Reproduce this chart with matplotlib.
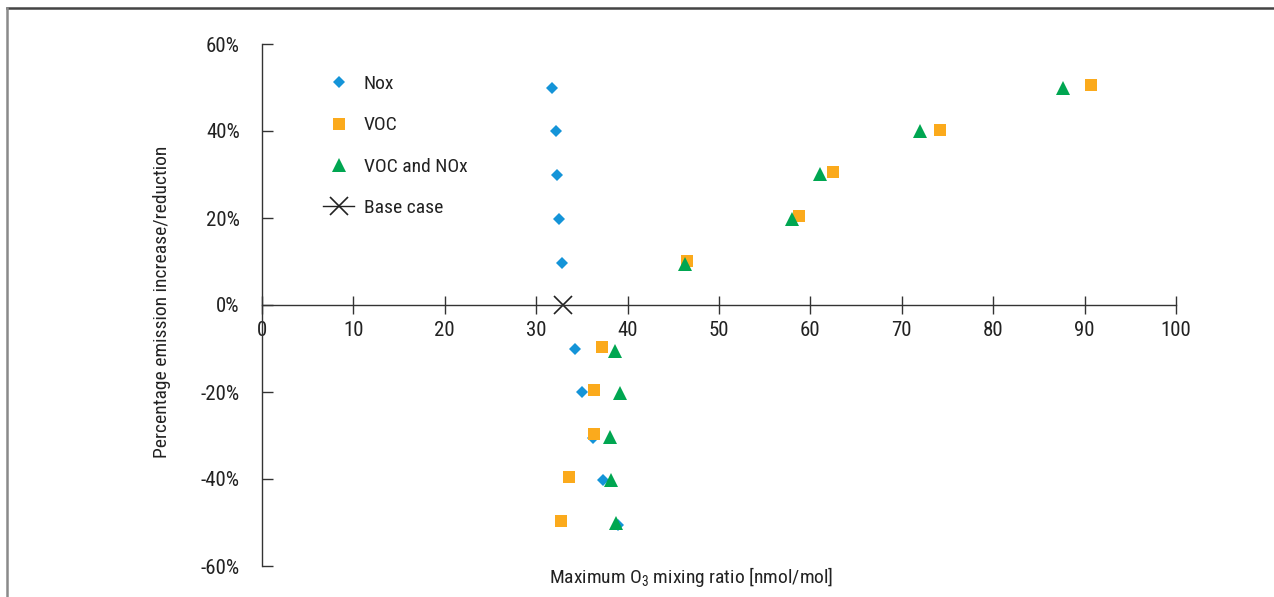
import matplotlib
matplotlib.use("Agg")
import matplotlib.pyplot as plt
from matplotlib.lines import Line2D
from matplotlib.ticker import FuncFormatter

plt.rcParams['font.family'] = ['Roboto Condensed', 'Liberation Sans', 'DejaVu Sans']
plt.rcParams['mathtext.default'] = 'regular'

# Emission change levels (fraction)
levels = [0.5, 0.4, 0.3, 0.2, 0.1, -0.1, -0.2, -0.3, -0.4, -0.5]

# Maximum O3 mixing ratio [nmol/mol]
nox_x = [31.7, 32.2, 32.3, 32.5, 32.8, 34.2, 35.0, 36.2, 37.3, 38.9]
nox_y = [0.499, 0.40, 0.30, 0.198, 0.097, -0.101, -0.20, -0.305, -0.402, -0.506]

voc_x = [90.7, 74.2, 62.5, 58.8, 46.5, 37.2, 36.3, 36.3, 33.6, 32.7]
voc_y = [0.506, 0.402, 0.306, 0.205, 0.101, -0.097, -0.196, -0.297, -0.395, -0.497]

both_x = [87.6, 72.0, 61.0, 58.0, 46.3, 38.6, 39.2, 38.1, 38.2, 38.7]
both_y = [0.499, 0.40, 0.301, 0.198, 0.094, -0.105, -0.202, -0.303, -0.403, -0.502]

base_x = [32.9]
base_y = [0.0]

xticks = [0, 10, 20, 30, 40, 50, 60, 70, 80, 90, 100]
yticks = [-0.6, -0.4, -0.2, 0.0, 0.2, 0.4, 0.6]

c_nox = '#1494D8'
c_voc = '#FBAA1C'
c_both = '#00A651'
c_axis = '#333333'
c_text = '#222222'
FS = 15
FL = 14

fig = plt.figure(figsize=(12.74, 5.97), dpi=100)
ax = fig.add_axes([262/1274, 1-566/597, (1176-262)/1274, (566-44)/597])

ax.plot(nox_x, nox_y, linestyle='none', marker='D', markersize=6.2, color=c_nox,
        markeredgewidth=0, label='Nox')
ax.plot(voc_x, voc_y, linestyle='none', marker='s', markersize=8, color=c_voc,
        markeredgewidth=0, label='VOC')
ax.plot(both_x, both_y, linestyle='none', marker='^', markersize=9.5, color=c_both,
        markeredgewidth=0, label='VOC and NOx')
ax.plot(base_x, base_y, linestyle='none', marker='x', markersize=13, color='#222222',
        markeredgewidth=1.2, label='Base case')

ax.set_xlim(0, 100)
ax.set_ylim(-0.6, 0.6)

for s in ['top', 'right']:
    ax.spines[s].set_visible(False)
ax.spines['bottom'].set_position(('data', 0))
ax.spines['bottom'].set_color(c_axis)
ax.spines['left'].set_color(c_axis)
ax.spines['bottom'].set_linewidth(1.0)
ax.spines['left'].set_linewidth(1.0)

ax.set_xticks(xticks)
ax.set_yticks(yticks)
ax.yaxis.set_major_formatter(FuncFormatter(lambda v, p: f"{v*100:.0f}%"))
ax.tick_params(axis='x', direction='inout', length=13, width=1.0, color=c_axis,
               labelsize=FS, labelcolor=c_text, pad=5)
ax.tick_params(axis='y', direction='in', length=8, width=1.0, color=c_axis,
               labelsize=FS, labelcolor=c_text, pad=16)

ax.set_xlabel('Maximum O$_3$ mixing ratio [nmol/mol]', fontsize=FL, color=c_text)
ax.xaxis.set_label_coords((691-262)/914, (566-577)/522)
ax.xaxis.label.set_verticalalignment('center')
ax.set_ylabel('Percentage emission increase/reduction', fontsize=FL, color=c_text)
ax.yaxis.set_label_coords((162-262)/914, (566-302)/522)
ax.yaxis.label.set_verticalalignment('center')

handles = [
    Line2D([], [], linestyle='none', marker='D', markersize=6.2, color=c_nox, markeredgewidth=0),
    Line2D([], [], linestyle='none', marker='s', markersize=8, color=c_voc, markeredgewidth=0),
    Line2D([], [], linestyle='none', marker='^', markersize=9.5, color=c_both, markeredgewidth=0),
    Line2D([], [], linestyle='-', marker='x', markersize=13, color='#222222',
           markeredgewidth=1.2, linewidth=1.0),
]
leg = ax.legend(handles, ['Nox', 'VOC', 'VOC and NOx', 'Base case'],
                loc='upper left', bbox_to_anchor=((323-262)/914, (566-75)/522),
                frameon=False, fontsize=FL, labelspacing=1.2, handlelength=1.6,
                handletextpad=0.5, borderaxespad=0, borderpad=0)
for t in leg.get_texts():
    t.set_color(c_text)

# figure frame (top and left edges)
fig.add_artist(Line2D([7/1274, 1], [1-8/597, 1-8/597], transform=fig.transFigure,
                      color='#444444', linewidth=1.8))
fig.add_artist(Line2D([7/1274, 7/1274], [0, 1-8/597], transform=fig.transFigure,
                      color='#8a8a8a', linewidth=1.8))

fig.savefig('out.png', dpi=100)
